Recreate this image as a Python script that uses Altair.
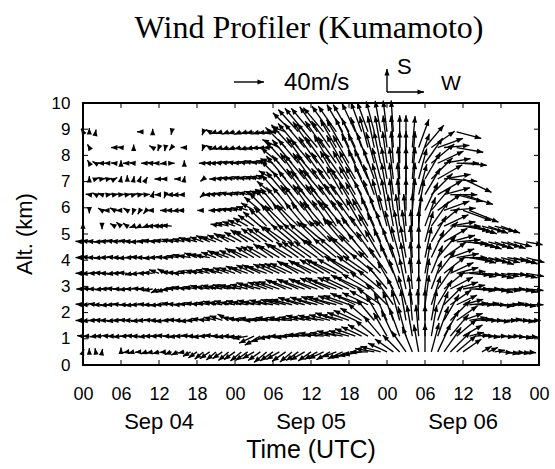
import altair as alt
import numpy as np
import pandas as pd

N = None
HOURS = list(range(72))  # hours since Sep 04 00 UTC
LEVELS_KM = [0.5, 1.1, 1.7, 2.3, 2.9, 3.5, 4.1, 4.7, 5.3, 5.9, 6.5, 7.1, 7.7, 8.3, 8.9]

# direction the wind blows TOWARD (deg clockwise from north) and speed (m/s), hourly
DIR_00 = [20, 0, 350, 10, N, N, 0, 260, 255, 265, 250, 260,
          255, 265, 250, 245, 260, 240, 235, 230, 235, 230, 235, 230,
          235, 230, 235, 240, 235, 230, 235, 240, 235, 230, 235, 240,
          235, 240, 245, 240, 250, 245, 250, 255, 260, 270, 280, 285,
          295, 305, 315, 325, 338, 350, 0, 15, 25, 35, 45, 50,
          55, N, N, 60, 65, 80, 95, 100, 95, 100, 95, N]
SPD_00 = [4, 5, 5, 4, N, N, 6, 6, 8, 7, 8, 9,
          9, 8, 10, 10, 9, 12, 14, 15, 16, 17, 16, 18,
          18, 19, 20, 18, 20, 22, 21, 20, 22, 21, 20, 22,
          21, 20, 22, 21, 20, 22, 24, 23, 25, 24, 26, 28,
          28, 30, 32, 34, 36, 37, 38, 40, 42, 40, 38, 34,
          30, N, N, 15, 14, 14, 15, 16, 15, 14, 13, N]
DIR_01 = [275, 270, 265, 270, 275, 270, 265, 270, 275, 270, 265, 270,
          270, 275, 270, 265, 270, 275, 270, 265, 270, 275, 270, 265,
          270, 265, 260, 245, 240, 250, 260, 265, 270, 265, 270, 275,
          275, 280, 275, 280, 285, 280, 285, 290, 295, 300, 310, 320,
          330, 335, 340, 345, 350, 355, 0, 10, 20, 30, 40, 50,
          60, 75, 85, 90, 95, 90, 95, 90, 95, 100, 95, N]
SPD_01 = [8, 9, 8, 10, 9, 10, 11, 10, 11, 12, 11, 12,
          12, 13, 12, 13, 14, 13, 14, 15, 15, 16, 15, 16,
          17, 18, 20, 22, 24, 22, 20, 21, 22, 23, 24, 24,
          25, 25, 26, 27, 27, 28, 28, 29, 30, 31, 33, 35,
          36, 38, 40, 41, 42, 42, 42, 42, 42, 40, 38, 35,
          30, 20, 18, 17, 16, 17, 18, 17, 16, 17, 16, N]
DIR_02 = [270, 265, 270, 275, 270, 265, 270, 275, 270, 265, 270, 275,
          270, 265, 270, 275, 270, 265, 270, 280, 275, 285, 290, 300,
          285, 280, 275, 280, 270, 275, 280, 275, 280, 275, 280, 285,
          280, 285, 280, 285, 290, 285, 290, 295, 300, 310, 320, 330,
          335, 340, 345, 350, 355, 358, 0, 10, 20, 30, 45, 55,
          70, 80, 85, 90, 90, 95, 90, 85, 90, 95, 90, N]
SPD_02 = [10, 11, 10, 11, 12, 11, 12, 12, 13, 12, 13, 12,
          13, 14, 13, 14, 14, 15, 15, 16, 16, 17, 18, 17,
          18, 19, 20, 20, 22, 22, 23, 24, 24, 25, 26, 26,
          27, 27, 28, 29, 30, 30, 31, 32, 33, 35, 37, 39,
          40, 41, 42, 42, 42, 42, 42, 42, 41, 40, 38, 34,
          28, 24, 22, 21, 20, 21, 22, 20, 21, 20, 19, N]
DIR_03 = [275, 270, 280, 270, 265, 270, 275, 270, 265, 270, 275, 270,
          265, 270, 280, 275, 270, 275, 280, 275, 280, 285, 280, 285,
          280, 285, 280, 285, 280, 285, 280, 285, 285, 285, 290, 285,
          290, 285, 290, 290, 285, 290, 290, 295, 290, 295, 300, 305,
          315, 325, 335, 345, 352, 0, 8, 18, 30, 45, 55, 65,
          75, 85, 90, 85, 90, 95, 90, 85, 90, 95, 90, N]
SPD_03 = [10, 11, 10, 12, 11, 12, 12, 11, 12, 13, 12, 13,
          13, 14, 14, 15, 15, 16, 16, 17, 18, 18, 19, 20,
          20, 21, 22, 23, 24, 24, 25, 26, 27, 28, 29, 30,
          30, 31, 32, 33, 34, 35, 36, 37, 38, 38, 38, 38,
          40, 40, 40, 40, 40, 40, 40, 40, 38, 36, 34, 30,
          28, 25, 24, 23, 24, 25, 24, 23, 24, 22, 23, N]
DIR_04 = [270, 275, 270, 265, 270, 275, 270, 265, 270, 275, 270, 260,
          245, 250, 265, 275, 280, 275, 280, 285, 280, 285, 280, 285,
          285, 280, 285, 290, 285, 290, 290, 290, 295, 290, 295, 290,
          295, 290, 295, 295, 290, 295, 295, 300, 295, 300, 305, 310,
          320, 330, 340, 348, 355, 0, 8, 20, 35, 50, 62, 72,
          80, 90, 95, 90, 95, 100, 95, 90, 95, 100, 95, N]
SPD_04 = [9, 10, 11, 10, 11, 12, 11, 12, 12, 11, 12, 13,
          12, 13, 14, 15, 16, 17, 18, 18, 19, 20, 21, 22,
          22, 23, 24, 25, 26, 27, 28, 29, 30, 31, 32, 33,
          33, 34, 35, 36, 36, 37, 38, 38, 39, 40, 40, 40,
          41, 42, 42, 42, 42, 42, 41, 40, 38, 36, 34, 30,
          30, 27, 26, 25, 26, 25, 26, 24, 25, 24, 23, N]
DIR_05 = [270, 265, 270, 275, 270, 265, 270, 275, 260, 265, 270, 275,
          290, 300, 280, 275, 270, 280, 285, 280, 285, 290, 285, 290,
          290, 295, 290, 295, 295, 290, 295, 295, 295, 295, 300, 295,
          300, 295, 300, 300, 295, 300, 305, 300, 305, 305, 310, 315,
          325, 335, 342, 350, 356, 0, 10, 22, 38, 52, 65, 75,
          85, 95, 100, 95, 100, 105, 100, 95, 100, 105, 100, N]
SPD_05 = [10, 11, 10, 11, 12, 11, 12, 13, 12, 13, 12, 13,
          14, 12, 14, 15, 16, 17, 16, 18, 19, 20, 21, 22,
          22, 23, 24, 26, 27, 28, 29, 30, 31, 32, 33, 34,
          35, 36, 37, 38, 38, 39, 40, 40, 40, 41, 41, 42,
          42, 42, 42, 42, 42, 42, 41, 40, 38, 36, 34, 30,
          30, 28, 27, 26, 27, 26, 25, 26, 25, 24, 24, N]
DIR_06 = [270, 275, 270, 265, 270, 275, 270, 265, 270, 275, 270, 265,
          270, 275, 270, 280, 285, 280, 290, 285, 280, 290, 295, 290,
          295, 300, 295, 300, 300, 300, 305, 300, 305, 300, 305, 305,
          305, 305, 310, 305, 310, 310, 315, 310, 315, 320, 325, 330,
          335, 340, 345, 350, 356, 0, 12, 25, 40, 55, 70, 80,
          90, 100, 105, 100, 105, 110, 105, 100, 105, 110, 105, N]
SPD_06 = [10, 11, 12, 11, 12, 11, 12, 13, 12, 13, 14, 13,
          14, 13, 14, 15, 16, 17, 18, 19, 20, 21, 22, 23,
          23, 25, 27, 28, 30, 31, 32, 33, 34, 35, 36, 37,
          38, 38, 39, 40, 40, 41, 41, 42, 42, 42, 42, 42,
          42, 42, 43, 43, 43, 43, 42, 40, 38, 36, 34, 30,
          32, 30, 28, 27, 28, 27, 26, 27, 26, 25, 25, N]
DIR_07 = [275, 280, 275, 270, 275, 280, 275, 280, 275, 270, 275, 280,
          275, 280, 285, 280, 285, 290, 285, 290, 295, 290, 295, 300,
          295, 300, 305, 300, 305, 305, 305, 310, 305, 310, 310, 310,
          310, 315, 310, 315, 315, 320, 315, 320, 320, 325, 330, 335,
          340, 345, 350, 353, 357, 0, 15, 30, 45, 60, 75, 85,
          95, 100, 105, 110, 105, 110, 105, 110, 105, N, 100, N]
SPD_07 = [10, 11, 12, 11, 12, 12, 13, 12, 13, 14, 13, 14,
          14, 15, 14, 15, 16, 17, 18, 19, 20, 21, 22, 23,
          24, 26, 28, 30, 31, 32, 33, 34, 35, 36, 37, 38,
          38, 39, 40, 40, 41, 41, 42, 42, 42, 42, 42, 42,
          43, 43, 43, 43, 43, 43, 42, 40, 38, 36, 34, 32,
          32, 30, 29, 28, 28, 27, 27, 26, 25, N, 22, N]
DIR_08 = [0, N, N, 180, N, 300, 310, 305, 250, 245, 250, 270,
          275, 270, 275, N, N, N, N, N, N, N, 280, 285,
          290, 295, 300, 305, 310, 315, 315, 320, 315, 320, 315, 320,
          320, 325, 320, 325, 325, 320, 325, 325, 330, 330, 335, 340,
          345, 350, 353, 356, 0, 5, 20, 35, 50, 65, 80, 90,
          100, 105, 110, 105, 110, 105, 110, N, N, N, N, N]
SPD_08 = [5, N, N, 4, N, 7, 8, 7, 6, 7, 6, 8,
          9, 12, 14, N, N, N, N, N, N, N, 16, 18,
          18, 20, 22, 26, 30, 33, 36, 38, 39, 40, 40, 41,
          41, 41, 42, 42, 42, 42, 42, 42, 42, 42, 42, 42,
          43, 43, 43, 43, 43, 42, 41, 40, 38, 36, 34, 32,
          35, 32, 30, 30, 28, 28, 27, N, N, N, N, N]
DIR_09 = [N, 180, N, 300, 270, 300, 270, 300, 200, 210, 220, 270,
          N, 270, 270, 265, 270, N, N, 270, N, 270, 275, 280,
          280, 285, 290, 300, 310, 315, 320, 320, 320, 320, 325, 320,
          325, 320, 325, 320, 325, 325, 325, 330, 330, 335, 340, 345,
          350, 353, 356, 0, 5, 10, 25, 40, 55, 70, 85, N,
          110, 112, N, N, N, N, N, N, N, N, N, N]
SPD_09 = [N, 4, N, 6, 7, 7, 7, 6, 6, 6, 6, 7,
          N, 7, 8, 8, 9, N, N, 8, N, 10, 11, 12,
          13, 14, 16, 20, 28, 33, 37, 39, 40, 41, 41, 42,
          42, 42, 42, 42, 42, 43, 43, 43, 43, 43, 43, 43,
          43, 43, 43, 43, 43, 42, 41, 40, 38, 36, 34, N,
          40, 42, N, N, N, N, N, N, N, N, N, N]
DIR_10 = [N, 280, 300, 290, 80, 80, 85, 80, 75, 80, 85, 20,
          270, 200, 270, 265, 270, N, N, 230, 270, 275, 280, 285,
          280, 285, 285, 290, 290, 295, 310, 318, 320, 320, 320, 325,
          320, 325, 320, 325, 325, 330, 325, 330, 330, 335, 340, 345,
          350, 353, 356, 0, 5, 15, 30, 45, 60, 75, 90, 105,
          108, N, N, N, N, N, N, N, N, N, N, N]
SPD_10 = [N, 5, 5, 6, 5, 5, 5, 5, 5, 5, 5, 5,
          6, 5, 7, 8, 8, N, N, 6, 8, 10, 11, 12,
          12, 13, 13, 14, 15, 17, 28, 36, 40, 41, 42, 42,
          42, 43, 43, 43, 43, 43, 43, 43, 43, 43, 43, 43,
          43, 43, 43, 43, 43, 42, 41, 40, 38, 36, 36, 36,
          42, N, N, N, N, N, N, N, N, N, N, N]
DIR_11 = [N, 0, 70, 80, 80, 60, 10, 0, 10, 20, 30, N,
          270, 270, N, 270, 10, N, N, 230, N, 270, 275, 280,
          280, 285, 280, 285, 285, 290, 300, 315, 320, 320, 325, 320,
          325, 320, 325, 325, 330, 325, 330, 330, 335, 335, 340, 345,
          350, 353, 357, 0, 5, 15, 30, 45, 60, 80, 95, N,
          115, N, N, N, N, N, N, N, N, N, N, N]
SPD_11 = [N, 4, 5, 5, 5, 4, 4, 5, 4, 4, 3, N,
          6, 6, N, 5, 4, N, N, 5, N, 9, 10, 11,
          12, 12, 13, 13, 14, 15, 22, 34, 40, 41, 42, 42,
          42, 43, 43, 43, 43, 43, 43, 43, 43, 43, 43, 43,
          43, 43, 43, 43, 43, 42, 41, 40, 38, 36, 36, N,
          42, N, N, N, N, N, N, N, N, N, N, N]
DIR_12 = [N, 330, 300, 270, 270, 275, 0, 270, 275, N, 270, 275,
          270, 265, 90, N, 0, N, N, 270, 275, 270, 275, 280,
          280, 275, 280, 285, 280, 285, 290, 310, 318, 320, 320, 325,
          320, 325, 325, 330, 325, 330, 330, 335, 335, 340, 345, 348,
          352, 356, 0, 0, 5, 20, 35, 50, 65, 80, N, 90,
          95, N, N, N, N, N, N, N, N, N, N, N]
SPD_12 = [N, 5, 5, 6, 6, 5, 4, 6, 6, N, 7, 8,
          8, 7, 4, N, 4, N, N, 6, 7, 9, 10, 11,
          11, 12, 12, 13, 13, 14, 18, 32, 40, 41, 42, 42,
          42, 43, 43, 43, 43, 43, 43, 43, 43, 43, 43, 43,
          43, 43, 43, 43, 43, 42, 41, 40, 38, 36, N, 30,
          32, N, N, N, N, N, N, N, N, N, N, N]
DIR_13 = [N, 330, N, N, N, 270, 275, N, 0, N, N, 300,
          200, 190, 220, N, 270, N, N, 200, 300, 250, 255, 255,
          255, 260, 255, 260, 265, 265, 270, 295, 315, 318, 320, 320,
          325, 320, 325, 325, 330, 330, 335, 335, 340, 345, 348, 350,
          353, 356, 0, 0, 5, 20, 40, 55, 70, 85, N, 100,
          N, N, N, N, N, N, N, N, N, N, N, N]
SPD_13 = [N, 5, N, N, N, 5, 5, N, 4, N, N, 5,
          5, 5, 5, N, 5, N, N, 5, 6, 8, 9, 10,
          10, 10, 11, 11, 12, 12, 13, 25, 38, 41, 42, 42,
          42, 42, 43, 43, 43, 43, 43, 43, 43, 43, 43, 43,
          43, 43, 43, 43, 42, 40, 39, 38, 36, 34, N, 36,
          N, N, N, N, N, N, N, N, N, N, N, N]
DIR_14 = [330, 0, 10, N, N, N, N, N, N, 270, N, 0,
          N, N, 190, N, N, N, N, 200, 300, 250, 255, 250,
          255, 250, 255, 260, 255, 260, 260, 270, 290, 315, 318, 320,
          320, 325, 320, 325, 325, 330, 330, 335, 340, 340, 345, 350,
          353, 356, N, N, N, N, N, N, N, N, N, 105,
          N, N, N, N, N, N, N, N, N, N, N, N]
SPD_14 = [5, 5, 3, N, N, N, N, N, N, 4, N, 4,
          N, N, 4, N, N, N, N, 5, 6, 8, 9, 9,
          10, 10, 10, 11, 11, 12, 12, 13, 20, 36, 40, 41,
          41, 41, 42, 42, 42, 42, 42, 42, 42, 42, 42, 42,
          42, 42, N, N, N, N, N, N, N, N, N, 34,
          N, N, N, N, N, N, N, N, N, N, N, N]

DIRS = [DIR_00, DIR_01, DIR_02, DIR_03, DIR_04, DIR_05, DIR_06, DIR_07,
        DIR_08, DIR_09, DIR_10, DIR_11, DIR_12, DIR_13, DIR_14]
SPDS = [SPD_00, SPD_01, SPD_02, SPD_03, SPD_04, SPD_05, SPD_06, SPD_07,
        SPD_08, SPD_09, SPD_10, SPD_11, SPD_12, SPD_13, SPD_14]

X_TICK_HOURS = list(range(0, 73, 6))
Y_TICKS_KM = list(range(0, 11))
INNER_X_TICKS = list(range(6, 72, 6))
INNER_Y_TICKS = list(range(1, 10))
DATE_LABELS = ["Sep 04", "Sep 05", "Sep 06"]
DATE_CENTERS = [12, 36, 60]
LEGEND_SPEED = 40  # m/s

# ---- layout ----
W, H = 456, 262
PX_PER_MS = 30 / 40.0
KX = PX_PER_MS * 72 / W
KY = PX_PER_MS * 10 / H
HEAD = "M0,0L0.8,2L-0.8,2Z"
HEAD_SIZE = 42
LINE_W = 1.35
SANS = "Liberation Sans"

rows = []
for z, dirs, spds in zip(LEVELS_KM, DIRS, SPDS):
    for h, d, s in zip(HOURS, dirs, spds):
        if d is None or s is None:
            continue
        r = np.deg2rad(d)
        u, v = s * np.sin(r), s * np.cos(r)
        rows.append(dict(t=h, z=z, t2=h + u * KX, z2=z + v * KY, ang=d % 360))
df = pd.DataFrame(rows)

xs = alt.Scale(domain=[0, 72], nice=False, zero=False)
ys = alt.Scale(domain=[0, 10], nice=False, zero=False)
xaxis = alt.Axis(values=X_TICK_HOURS, tickSize=0, domain=False, grid=False,
                 labelExpr="(datum.value % 24) < 10 ? '0' + (datum.value % 24) : '' + (datum.value % 24)",
                 labelFont=SANS, labelFontSize=18, labelColor="black", labelPadding=20,
                 labelFlush=False, labelOverlap=False, title=None)
yaxis = alt.Axis(values=Y_TICKS_KM, tickSize=0, domain=False, grid=False,
                 labelFont=SANS, labelFontSize=17, labelColor="black", labelPadding=13,
                 labelOverlap=False, title=None)

X = lambda f: alt.X(f, type="quantitative", scale=xs, axis=xaxis)
Y = lambda f: alt.Y(f, type="quantitative", scale=ys, axis=yaxis)

shafts = alt.Chart(df).mark_rule(color="black", strokeWidth=LINE_W).encode(
    x=X("t"), y=Y("z"), x2="t2", y2="z2")
heads = alt.Chart(df).mark_point(shape=HEAD, filled=True, color="black", opacity=1,
                                 size=HEAD_SIZE, strokeWidth=0).encode(
    x=X("t2"), y=Y("z2"), angle=alt.Angle("ang:Q", scale=None))

xt = pd.DataFrame({"h": INNER_X_TICKS})
yt = pd.DataFrame({"k": INNER_Y_TICKS})
tick_top = alt.Chart(xt).mark_rule(color="black", strokeWidth=1).encode(
    x=X("h"), y=alt.value(0), y2=alt.value(5))
tick_bot = alt.Chart(xt).mark_rule(color="black", strokeWidth=1).encode(
    x=X("h"), y=alt.value(H), y2=alt.value(H - 5))
tick_left = alt.Chart(yt).mark_rule(color="black", strokeWidth=1).encode(
    y=Y("k"), x=alt.value(0), x2=alt.value(5))
tick_right = alt.Chart(yt).mark_rule(color="black", strokeWidth=1).encode(
    y=Y("k"), x=alt.value(W), x2=alt.value(W - 5))

dates = alt.Chart(pd.DataFrame({"hc": DATE_CENTERS, "lab": DATE_LABELS})).mark_text(
    font=SANS, fontSize=22, color="black", align="center", baseline="alphabetic").encode(
    x=X("hc"), y=alt.value(H + 64), text="lab")

one = pd.DataFrame({"a": [0]})
def label(txt, x, y, size, font=SANS, align="left", angle=0):
    return alt.Chart(pd.DataFrame({"lab": [txt]})).mark_text(
        font=font, fontSize=size, color="black", align=align, baseline="alphabetic",
        angle=angle).encode(x=alt.value(x), y=alt.value(y), text="lab")

title = label("Wind Profiler (Kumamoto)", W / 2 - 2, -65, 32, font="Liberation Serif", align="center")
xtitle = label("Time (UTC)", W / 2, H + 93, 25, align="center")
ytitle = alt.Chart(pd.DataFrame({"lab": ["Alt. (km)"]})).mark_text(
    font=SANS, fontSize=22, color="black", align="center", baseline="middle", angle=270).encode(
    x=alt.value(-58), y=alt.value(H / 2), text="lab")

# legend: reference arrow of LEGEND_SPEED m/s, and S/W direction key
lx0, ly = 151, -21
leg = pd.DataFrame({"spd": [LEGEND_SPEED]})
leg_shaft = alt.Chart(leg).mark_rule(color="black", strokeWidth=1.4).encode(
    x=alt.value(lx0), x2=alt.value(lx0 + LEGEND_SPEED * PX_PER_MS), y=alt.value(ly), y2=alt.value(ly))
leg_head = alt.Chart(leg).mark_point(shape=HEAD, filled=True, color="black", opacity=1,
                                     size=HEAD_SIZE, strokeWidth=0).encode(
    x=alt.value(lx0 + LEGEND_SPEED * PX_PER_MS), y=alt.value(ly), angle=alt.value(90))
leg_text = label("40m/s", 201, -13, 24)

cx, cy = 304, -11
key_v = alt.Chart(one).mark_rule(color="black", strokeWidth=1.4).encode(
    x=alt.value(cx), x2=alt.value(cx), y=alt.value(cy), y2=alt.value(cy - 23))
key_h = alt.Chart(one).mark_rule(color="black", strokeWidth=1.4).encode(
    x=alt.value(cx), x2=alt.value(cx + 37), y=alt.value(cy), y2=alt.value(cy))
key_vh = alt.Chart(one).mark_point(shape=HEAD, filled=True, color="black", opacity=1,
                                   size=HEAD_SIZE, strokeWidth=0).encode(
    x=alt.value(cx), y=alt.value(cy - 23), angle=alt.value(0))
key_hh = alt.Chart(one).mark_point(shape=HEAD, filled=True, color="black", opacity=1,
                                   size=HEAD_SIZE, strokeWidth=0).encode(
    x=alt.value(cx + 37), y=alt.value(cy), angle=alt.value(90))
key_s = label("S", 314, -29, 22)
key_w = label("W", 358, -13, 21)

chart = alt.layer(
    shafts, heads, tick_top, tick_bot, tick_left, tick_right, dates,
    title, xtitle, ytitle, leg_shaft, leg_head, leg_text,
    key_v, key_h, key_vh, key_hh, key_s, key_w,
).properties(
    width=W, height=H,
    autosize=alt.AutoSizeParams(type="none"),
    padding={"left": 83, "top": 103, "right": 16, "bottom": 104},
    background="white",
).configure_view(stroke="black", strokeWidth=2)

chart.save("out.html", embed_options={"renderer": "svg", "actions": False})
